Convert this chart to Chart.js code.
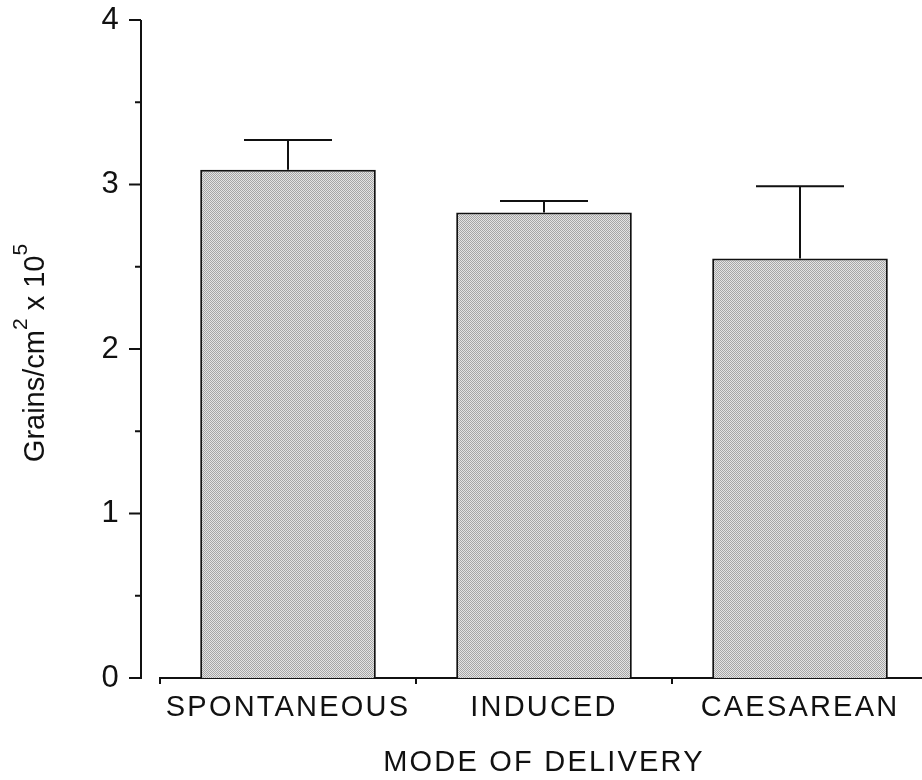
<!DOCTYPE html>
<html>
<head>
<meta charset="utf-8">
<title>Mode of delivery</title>
<script src="https://cdn.jsdelivr.net/npm/chart.js@4.4.1/dist/chart.umd.min.js"></script>
<style>
    html, body { margin: 0; padding: 0; background: #fff; overflow: hidden; }
    #wrap { width: 928px; height: 780px; }
</style>
</head>
<body>
<div id="wrap"><canvas id="chart" width="928" height="780"></canvas></div>
<script>
// Werte pro Geburtsmodus
const categories = ['SPONTANEOUS', 'INDUCED', 'CAESAREAN'];
const means = [3.09, 2.83, 2.55];
const sem = [0.18, 0.07, 0.44];
const yTicks = [0, 1, 2, 3, 4];

const FAMILY = '"Liberation Sans", Arial, sans-serif';
const FONT = { family: FAMILY, size: 29 };
const TICK_FONT = { family: FAMILY, size: 31 };
const INK = '#111';

// Punktraster fuer die Balken
function stipple() {
    const c = document.createElement('canvas');
    c.width = 2;
    c.height = 2;
    const g = c.getContext('2d');
    g.fillStyle = '#e4e4e4';
    g.fillRect(0, 0, 2, 2);
    g.fillStyle = '#a6a6a6';
    g.fillRect(0, 0, 1, 1);
    g.fillRect(1, 1, 1, 1);
    return g.createPattern(c, 'repeat');
}

// Buchstabenabstand wie im Druck
const spacingPlugin = {
    id: 'spacing',
    beforeDraw(chart) {
        chart.ctx.letterSpacing = '2.2px';
    }
};

// Y-Achse steht etwas abgesetzt links vom Plotbereich
const yAxisPlugin = {
    id: 'yAxisLine',
    afterDraw(chart) {
        const ctx = chart.ctx;
        const y = chart.scales.y;
        const ax = chart.chartArea.left - 19;
        ctx.save();
        ctx.strokeStyle = INK;
        ctx.lineWidth = 2;
        ctx.beginPath();
        ctx.moveTo(ax, y.getPixelForValue(yTicks[yTicks.length - 1]));
        ctx.lineTo(ax, y.getPixelForValue(0) + 1);
        yTicks.forEach(v => {
            const py = y.getPixelForValue(v);
            ctx.moveTo(ax - 12, py);
            ctx.lineTo(ax, py);
            if (v < yTicks[yTicks.length - 1]) {
                const pm = y.getPixelForValue(v + 0.5);
                ctx.moveTo(ax - 6, pm);
                ctx.lineTo(ax, pm);
            }
        });
        ctx.stroke();

        // Achsentitel mit Hochzahlen
        ctx.letterSpacing = '0px';
        ctx.translate(36, (chart.chartArea.top + chart.chartArea.bottom) / 2 + 4);
        ctx.rotate(-Math.PI / 2);
        ctx.fillStyle = INK;
        ctx.textBaseline = 'middle';
        const big = '29px ' + FAMILY;
        const small = '21px ' + FAMILY;
        const parts = [
            ['Grains/cm', big, 0],
            ['2', small, -15],
            [' x 10', big, 0],
            ['5', small, -15]
        ];
        let total = 0;
        parts.forEach(p => { ctx.font = p[1]; total += ctx.measureText(p[0]).width; });
        let x = -total / 2;
        parts.forEach(p => {
            ctx.font = p[1];
            ctx.fillText(p[0], x, p[2]);
            x += ctx.measureText(p[0]).width;
        });
        ctx.restore();
    }
};

// Fehlerbalken (nur nach oben)
const errorBarPlugin = {
    id: 'errorBars',
    afterDatasetsDraw(chart) {
        const ctx = chart.ctx;
        const meta = chart.getDatasetMeta(0);
        const y = chart.scales.y;
        ctx.save();
        ctx.strokeStyle = INK;
        ctx.lineWidth = 2;
        meta.data.forEach((bar, i) => {
            const top = y.getPixelForValue(means[i] + sem[i]);
            const base = y.getPixelForValue(means[i]);
            ctx.beginPath();
            ctx.moveTo(bar.x, base);
            ctx.lineTo(bar.x, top);
            ctx.moveTo(bar.x - 44, top);
            ctx.lineTo(bar.x + 44, top);
            ctx.stroke();
        });
        ctx.restore();
    }
};

function init() {
    const ctx = document.getElementById('chart');
    new Chart(ctx, {
        type: 'bar',
        data: {
            labels: categories,
            datasets: [{
                data: means,
                backgroundColor: stipple(),
                borderColor: INK,
                borderWidth: 2,
                borderSkipped: 'bottom',
                categoryPercentage: 1,
                barPercentage: 0.686
            }]
        },
        options: {
            responsive: false,
            animation: false,
            devicePixelRatio: 1,
            layout: { padding: { top: 20, right: 0, bottom: 0, left: 0 } },
            plugins: {
                legend: { display: false },
                tooltip: { enabled: false }
            },
            scales: {
                x: {
                    offset: true,
                    grid: {
                        offset: true,
                        drawOnChartArea: false,
                        drawTicks: true,
                        tickLength: 6,
                        color: INK,
                        lineWidth: 2
                    },
                    border: { display: true, color: INK, width: 2 },
                    ticks: { font: FONT, color: INK, padding: 7, maxRotation: 0 },
                    title: {
                        display: true,
                        text: 'MODE OF DELIVERY',
                        font: FONT,
                        color: INK,
                        padding: { top: 0, bottom: 0 }
                    },
                    afterFit: s => { s.height = 102; }
                },
                y: {
                    min: 0,
                    max: 4,
                    ticks: { stepSize: 1, font: TICK_FONT, color: INK, padding: 39 },
                    grid: { display: false, drawTicks: false },
                    border: { display: false },
                    afterFit: s => {
                        s.width = 160;
                        s.paddingTop = 0;
                        s.paddingBottom = 0;
                    }
                }
            }
        },
        plugins: [spacingPlugin, yAxisPlugin, errorBarPlugin]
    });
}

document.addEventListener('DOMContentLoaded', init);
</script>
</body>
</html>
